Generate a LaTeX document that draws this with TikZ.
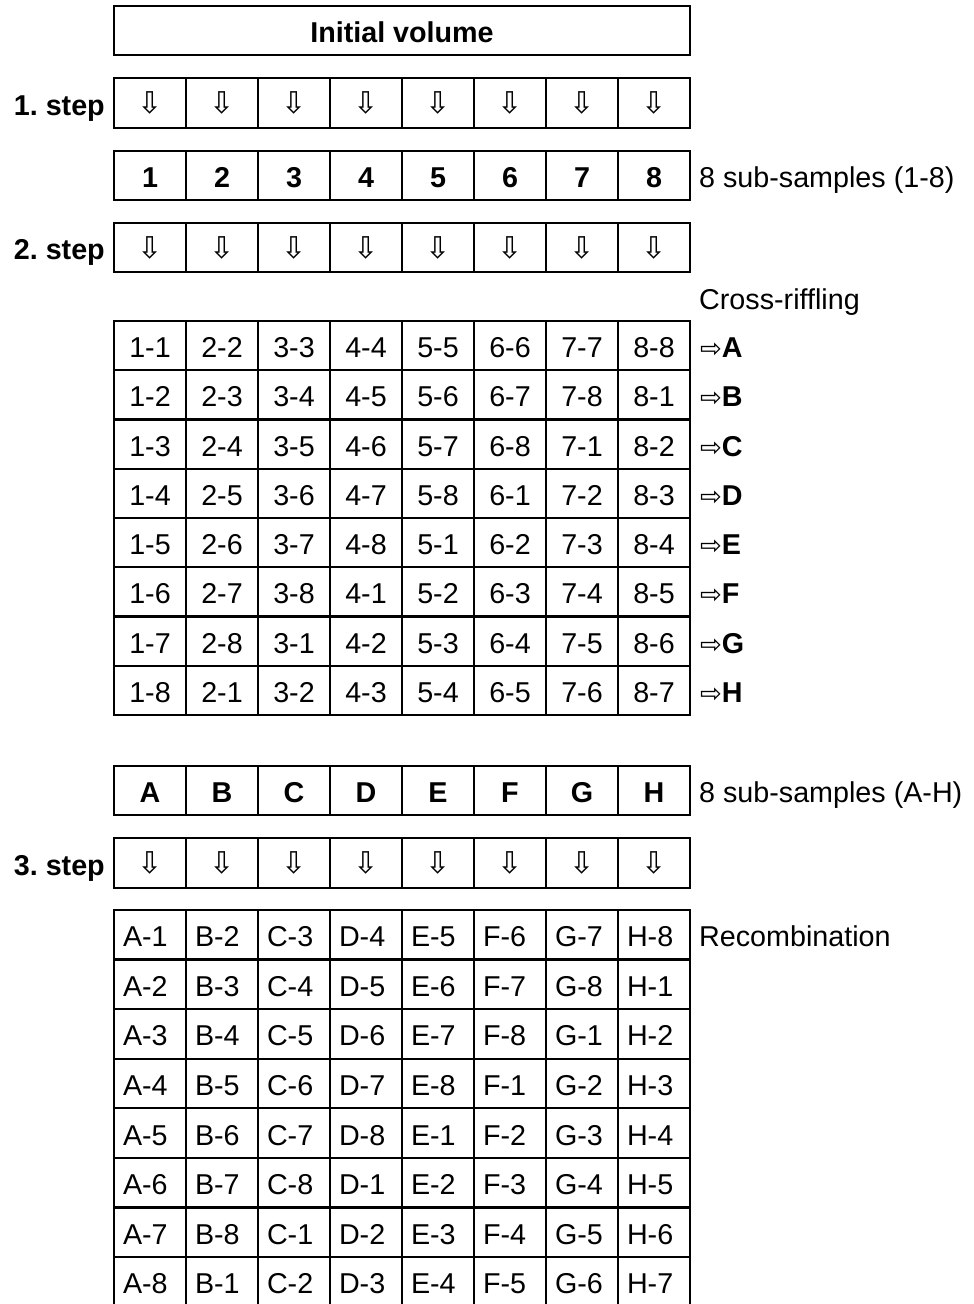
\documentclass[tikz,border=0pt]{standalone}
\usepackage{fontspec}
\setmainfont{Liberation Sans}
\newfontfamily\arrowfont{DejaVu Sans}
\frenchspacing
\begin{document}
\begin{tikzpicture}[x=1pt,y=-1pt,
  cell/.style={draw, line width=2.2pt, minimum width=72pt, inner sep=0pt},
  fixh/.style={text height=24pt, text depth=0pt},
  txt/.style={font=\fontsize{28.7}{33}\selectfont, fixh},
  btxt/.style={font=\fontsize{28.7}{33}\selectfont\bfseries, fixh},
  arr/.style={font=\arrowfont\fontsize{30}{35}\selectfont},
  lcell/.style={cell, txt, text width=54pt, inner xsep=9pt, align=left},
  side/.style={txt, anchor=west, inner sep=0pt}]
\useasboundingbox (0,0) rectangle (974,1304);
% initial volume
\node[cell, btxt, minimum width=576pt, minimum height=49pt] (init) at (402,30.5) {Initial volume};
% step 1 and 2
\node[btxt, anchor=east, inner sep=0pt] (l1) at (105,103) {1.\ step};
\foreach \i in {1,...,8} {
  \node[cell, arr, minimum height=50pt] (sa-\i) at ({78+72*\i},103) {⇩};
  \node[cell, btxt, minimum height=49pt] (n-\i) at ({78+72*\i},175.5) {\i};
  \node[cell, arr, minimum height=49pt] (sb-\i) at ({78+72*\i},247.5) {⇩};
}
\node[side] (sub1) at (699,175.5) {8 sub-samples (1-8)};
\node[btxt, anchor=east, inner sep=0pt] (l2) at (105,247.5) {2.\ step};
\node[side] (cr) at (699,297) {Cross-riffling};
% cross-riffling table
\foreach \L [count=\r from 0] in {A,B,C,D,E,F,G,H} {
  \foreach \i in {1,...,8} {
    \pgfmathtruncatemacro{\j}{mod(\i-1+\r,8)+1}
    \node[cell, txt, minimum height=49.25pt] (c-\r-\i) at ({78+72*\i},{321+49.25*(\r+0.5)}) {\i-\j};
  }
  \node[anchor=west, inner sep=0pt, fixh] (to-\r) at (700,{321+49.25*(\r+0.5)}) {{\arrowfont\fontsize{26}{30}\selectfont ⇨}{\fontsize{28.7}{33}\selectfont\bfseries\L}};
}
% A-H row and step 3
\foreach \L [count=\i] in {A,B,C,D,E,F,G,H} {
  \node[cell, btxt, minimum height=49pt] (ah-\i) at ({78+72*\i},790.5) {\L};
  \node[cell, arr, minimum height=50pt] (sc-\i) at ({78+72*\i},863) {⇩};
}
\node[side] (sub2) at (699,790.5) {8 sub-samples (A-H)};
\node[btxt, anchor=east, inner sep=0pt] (l3) at (105,863) {3.\ step};
% recombination table
\foreach \r in {0,...,7} {
  \foreach \L [count=\i] in {A,B,C,D,E,F,G,H} {
    \pgfmathtruncatemacro{\j}{mod(\i-1+\r,8)+1}
    \node[lcell, minimum height=49.57pt] (rc-\r-\i) at ({78+72*\i},{910+49.57*(\r+0.5)}) {\L-\j};
  }
}
\node[side] (rec) at (699,934.8) {Recombination};
\end{tikzpicture}
\end{document}
